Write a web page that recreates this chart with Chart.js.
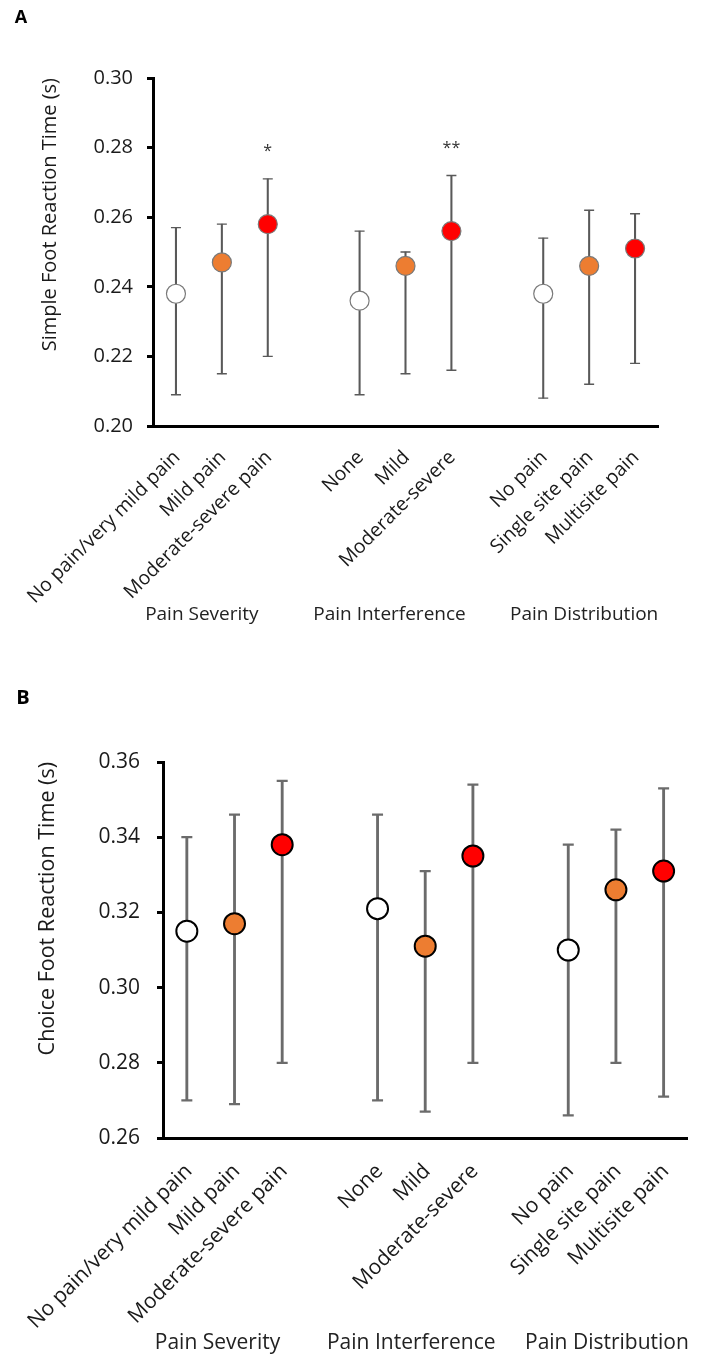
<!DOCTYPE html>
<html>
<head>
<meta charset="utf-8">
<script src="https://cdn.jsdelivr.net/npm/chart.js@4"></script>
<style>
  body { margin: 0; background: #fff; }
  canvas { display: block; }
</style>
</head>
<body>
<canvas id="panelA" width="703" height="640"></canvas>
<canvas id="panelB" width="703" height="715"></canvas>
<script>
// three groups of three categories each
var groupNames = ['Pain Severity', 'Pain Interference', 'Pain Distribution'];
var categories = ['No pain/very mild pain', 'Mild pain', 'Moderate-severe pain',
                  'None', 'Mild', 'Moderate-severe',
                  'No pain', 'Single site pain', 'Multisite pain'];
var levelColors = ['#FFFFFF', '#ED7D31', '#FF0000', '#FFFFFF', '#ED7D31', '#FF0000', '#FFFFFF', '#ED7D31', '#FF0000'];

// A: simple foot reaction time (s)
var simpleMean = [0.238, 0.247, 0.258, 0.236, 0.246, 0.256, 0.238, 0.246, 0.251];
var simpleLow  = [0.209, 0.215, 0.220, 0.209, 0.215, 0.216, 0.208, 0.212, 0.218];
var simpleHigh = [0.257, 0.258, 0.271, 0.256, 0.250, 0.272, 0.254, 0.262, 0.261];
var simpleSig  = ['', '', '*', '', '', '**', '', '', ''];

// B: choice foot reaction time (s)
var choiceMean = [0.315, 0.317, 0.338, 0.321, 0.311, 0.335, 0.310, 0.326, 0.331];
var choiceLow  = [0.270, 0.269, 0.280, 0.270, 0.267, 0.280, 0.266, 0.280, 0.271];
var choiceHigh = [0.340, 0.346, 0.355, 0.346, 0.331, 0.354, 0.338, 0.342, 0.353];
var choiceSig  = ['', '', '', '', '', '', '', '', ''];

Chart.defaults.font.family = "'Open Sans', sans-serif";

//put an empty slot between the groups
function withGaps(arr, filler) {
  var out = [];
  arr.forEach(function(v, i) {
    if (i > 0 && i % 3 === 0) out.push(filler);
    out.push(v);
  });
  return out;
}

// stars, group names and panel letter
var extrasPlugin = {
  id: 'extras',
  afterDatasetsDraw: function(chart) {
    var o = chart.options.plugins.extras;
    var ctx = chart.ctx;
    var xs = chart.scales.x, ys = chart.scales.y;
    ctx.save();
    ctx.fillStyle = '#333';
    ctx.textAlign = 'center';
    ctx.textBaseline = 'middle';
    ctx.font = o.sigSize + "px 'Open Sans'";
    o.sig.forEach(function(s, i) {
      if (!s) return;
      var idx = i + Math.floor(i / 3);
      ctx.fillText(s, xs.getPixelForValue(idx), ys.getPixelForValue(o.high[i]) - o.sigGap);
    });
    ctx.fillStyle = '#222';
    ctx.font = o.groupSize + "px 'Open Sans'";
    groupNames.forEach(function(g, k) {
      var idx = k * 4 + 1;
      ctx.fillText(g, xs.getPixelForValue(idx) + o.groupShift[k], o.groupY);
    });
    ctx.fillStyle = '#000';
    ctx.font = 'bold ' + o.letterSize + "px 'Open Sans'";
    ctx.fillText(o.letter, o.letterX, o.letterY);
    ctx.restore();
  }
};

function makePanel(id, p) {
  var ranges = p.low.map(function(l, i) { return [l, p.high[i]]; });
  return new Chart(document.getElementById(id), {
    type: 'line',
    data: {
      labels: withGaps(categories, ''),
      datasets: [{
        data: withGaps(p.mean, null),
        showLine: false,
        pointRadius: p.dotR,
        pointHoverRadius: p.dotR,
        pointBackgroundColor: withGaps(levelColors, '#fff'),
        pointBorderColor: p.dotEdge,
        pointBorderWidth: p.dotEdgeW,
        order: 0
      }, {
        data: withGaps(p.high, null),
        showLine: false,
        pointStyle: 'line',
        pointRadius: p.capR,
        pointBorderColor: p.barColor,
        pointBorderWidth: p.barW,
        order: 1
      }, {
        data: withGaps(p.low, null),
        showLine: false,
        pointStyle: 'line',
        pointRadius: p.capR,
        pointBorderColor: p.barColor,
        pointBorderWidth: p.barW,
        order: 1
      }, {
        type: 'bar',
        data: withGaps(ranges, null),
        backgroundColor: p.barColor,
        barThickness: p.barW,
        order: 2
      }]
    },
    options: {
      responsive: false,
      animation: false,
      layout: { padding: { top: p.top, right: p.right, left: 0, bottom: 0 } },
      plugins: {
        legend: { display: false },
        tooltip: { enabled: false },
        extras: p.extras
      },
      scales: {
        x: {
          offset: true,
          grid: { display: false, drawTicks: false },
          border: { display: true, color: '#000', width: 3 },
          ticks: {
            autoSkip: false,
            minRotation: 45,
            maxRotation: 45,
            padding: p.xPad,
            labelOffset: p.xShift,
            color: '#1a1a1a',
            font: { size: p.catSize }
          },
          afterFit: function(s) { s.height = p.xHeight; }
        },
        y: {
          min: p.yMin,
          max: p.yMax,
          grid: { drawOnChartArea: false, drawTicks: true, tickLength: 6, tickWidth: 3, tickColor: '#000' },
          border: { display: true, color: '#000', width: 3 },
          ticks: {
            stepSize: 0.02,
            padding: p.yPad,
            color: '#1a1a1a',
            font: { size: p.tickSize },
            callback: function(v) { return v.toFixed(2); }
          },
          title: {
            display: true,
            text: p.yTitle,
            align: 'end',
            color: '#1a1a1a',
            font: { size: p.titleSize },
            padding: { top: p.titlePad, bottom: 0 }
          },
          afterFit: function(s) { s.width = p.yWidth; }
        }
      }
    },
    plugins: [extrasPlugin]
  });
}

makePanel('panelA', {
  mean: simpleMean, low: simpleLow, high: simpleHigh,
  yMin: 0.20, yMax: 0.30, yTitle: 'Simple Foot Reaction Time (s)',
  top: 78, right: 45, xHeight: 214, yWidth: 153,
  xPad: 20, xShift: 1, yPad: 14, titlePad: 38,
  catSize: 19.5, tickSize: 20, titleSize: 20,
  dotR: 9.5, dotEdge: '#7a7a7a', dotEdgeW: 1.2,
  capR: 5, barColor: '#595959', barW: 1.4,
  extras: {
    sig: simpleSig, high: simpleHigh, sigSize: 16, sigGap: 27,
    groupSize: 19, groupShift: [-20, -16, -5], groupY: 615,
    letter: 'A', letterSize: 18, letterX: 21, letterY: 18
  }
});

makePanel('panelB', {
  mean: choiceMean, low: choiceLow, high: choiceHigh,
  yMin: 0.26, yMax: 0.36, yTitle: 'Choice Foot Reaction Time (s)',
  top: 122, right: 5, xHeight: 217, yWidth: 163,
  xPad: 21, xShift: 2, yPad: 17, titlePad: 35,
  catSize: 21, tickSize: 21, titleSize: 21.5,
  dotR: 10.5, dotEdge: '#000', dotEdgeW: 2,
  capR: 5.5, barColor: '#6b6b6b', barW: 2.2,
  extras: {
    sig: choiceSig, high: choiceHigh, sigSize: 16, sigGap: 27,
    groupSize: 21, groupShift: [-17, -14, -9], groupY: 703,
    letter: 'B', letterSize: 20, letterX: 23, letterY: 58
  }
});
</script>
</body>
</html>
